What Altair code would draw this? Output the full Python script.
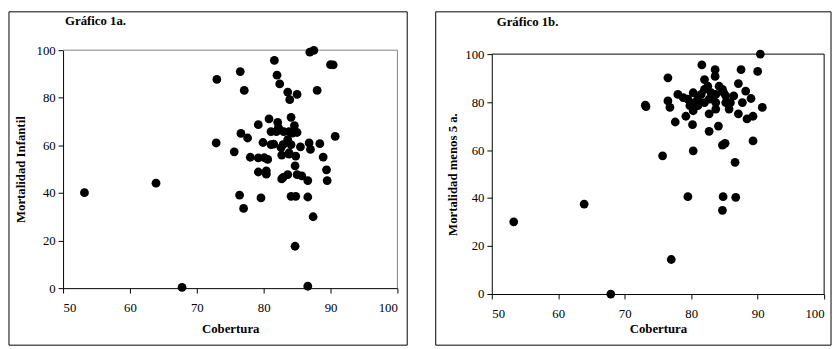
import altair as alt
import pandas as pd

# ---- data ----
left_x = [53.2, 63.9, 67.8, 73.0, 72.9, 76.5, 77.1, 75.6, 76.6, 77.6, 76.4, 77.0, 78.0, 79.2,
          79.6, 79.2, 79.9, 80.1, 80.4, 80.8, 81.1, 81.1, 80.6, 81.6, 82.0, 82.4, 82.1, 82.4,
          82.6, 82.7, 82.7, 83.6, 83.9, 85.0, 84.1, 84.6, 83.8, 85.0, 83.6, 84.1, 83.8, 84.8,
          84.7, 83.6, 85.0, 85.7, 86.6, 84.1, 84.8, 86.6, 84.7, 86.6, 87.4, 85.5, 86.8, 87.0,
          88.4, 88.9, 89.4, 89.5, 88.0, 86.9, 87.5, 90.0, 90.4, 90.7, 79.2, 80.4, 81.9, 83.0,
          84.3, 82.9, 83.8, 82.9, 81.5, 82.2]
left_y = [40.1, 44.1, 0.3, 87.7, 61.0, 91.0, 83.1, 57.3, 65.0, 63.1, 39.1, 33.5, 55.0, 68.7,
          37.9, 48.8, 61.2, 54.8, 47.9, 71.1, 65.8, 60.3, 54.1, 95.7, 89.5, 85.8, 69.7, 66.5,
          59.0, 55.9, 45.9, 82.4, 79.2, 81.4, 71.8, 68.3, 65.8, 65.4, 62.4, 60.3, 56.9, 55.5,
          51.4, 47.7, 47.7, 47.2, 45.2, 38.6, 38.6, 38.3, 17.6, 0.8, 30.0, 59.4, 61.0, 58.3,
          60.7, 55.1, 49.7, 45.2, 83.1, 99.2, 99.9, 93.9, 93.8, 63.8, 54.7, 49.3, 65.8, 65.8,
          65.1, 60.3, 56.3, 46.5, 60.5, 67.5]

right_x = [53.3, 63.9, 67.9, 73.1, 73.2, 76.5, 76.5, 76.8, 77.0, 75.7, 77.6, 78.0, 79.2, 80.2,
           80.3, 79.5, 81.6, 82.0, 82.7, 82.7, 83.6, 83.6, 84.1, 84.7, 85.1, 84.7, 84.8, 86.7,
           86.6, 87.5, 87.1, 87.1, 88.2, 89.0, 87.7, 88.4, 89.3, 89.3, 90.0, 90.4, 90.7,
           78.8, 79.5, 80.3, 80.5, 79.8, 80.3, 81.0, 81.5, 82.0, 82.5, 83.0, 83.2, 83.7, 84.2,
           84.7, 84.9, 85.2, 85.2, 85.7, 83.7, 85.9, 86.4, 82.0, 81.0, 82.7, 83.7]
right_y = [30.1, 37.5, 0.0, 78.7, 78.1, 90.1, 80.5, 77.8, 14.4, 57.6, 71.7, 83.2, 74.1, 70.6,
           59.7, 40.6, 95.5, 89.4, 75.1, 67.8, 93.5, 90.7, 70.0, 62.1, 62.8, 34.9, 40.6, 40.3,
           54.9, 93.5, 87.7, 75.1, 84.6, 81.5, 79.8, 73.0, 74.1, 63.8, 92.8, 100.0, 77.8,
           81.9, 81.2, 83.9, 79.8, 78.5, 76.4, 81.2, 83.2, 85.3, 86.6, 83.9, 81.2, 79.8, 86.6,
           85.3, 83.9, 82.6, 79.8, 77.1, 77.1, 79.8, 82.6, 79.8, 78.5, 81.2, 83.2]

titles = ["Gráfico 1a.", "Gráfico 1b."]
y_titles = ["Mortalidad Infantil", "Mortalidad menos 5 a."]
x_title = "Cobertura"
x_ticks = [50, 60, 70, 80, 90, 100]
y_ticks = [0, 20, 40, 60, 80, 100]
x_dom = [50, 100]
y_dom = [0, 100]

FONT = "Liberation Serif"
one = pd.DataFrame({"k": [0]})


def panel(xs, ys, title, ytitle, w, h, top, frame, box, tpos, xlab_pad, xtitle_pad,
          ytitle_pad):
    df = pd.DataFrame({"Cobertura": xs, "Mortalidad": ys})
    xsc = alt.Scale(domain=x_dom, nice=False, zero=False)
    ysc = alt.Scale(domain=y_dom, nice=False, range=[h, top])
    pts = alt.Chart(df).mark_circle(size=80, color="black", opacity=1).encode(
        x=alt.X("Cobertura:Q", scale=xsc,
                axis=alt.Axis(values=x_ticks, title=x_title, grid=False,
                              domainColor="black", tickColor="black", tickSize=5,
                              labelFont=FONT, labelFontSize=13, labelColor="black",
                              labelPadding=xlab_pad,
                              titleFont=FONT, titleFontSize=13, titleFontWeight="bold",
                              titleColor="black", titlePadding=xtitle_pad)),
        y=alt.Y("Mortalidad:Q", scale=ysc,
                axis=alt.Axis(values=y_ticks, title=ytitle, grid=False,
                              domainColor="black", tickColor="black", tickSize=5,
                              labelFont=FONT, labelFontSize=13, labelColor="black",
                              labelPadding=3,
                              titleFont=FONT, titleFontSize=13, titleFontWeight="bold",
                              titleColor="black", titlePadding=ytitle_pad)),
    )
    # top and right frame lines of the plot area
    top_line = alt.Chart(one).mark_rule(color=frame, strokeWidth=1).encode(
        x=alt.datum(x_dom[0]), x2=alt.datum(x_dom[1]), y=alt.datum(y_dom[1]))
    right_line = alt.Chart(one).mark_rule(color=frame, strokeWidth=1).encode(
        x=alt.datum(x_dom[1]), y=alt.datum(y_dom[0]), y2=alt.datum(y_dom[1]))
    border = alt.Chart(one).mark_rect(fill=None, stroke="black", strokeWidth=1).encode(
        x=alt.value(box[0]), x2=alt.value(box[1]), y=alt.value(box[2]), y2=alt.value(box[3]))
    ttl = alt.Chart(one).mark_text(align="left", baseline="middle", font=FONT,
                                   fontSize=13, fontWeight="bold", color="black").encode(
        x=alt.value(tpos[0]), y=alt.value(tpos[1]), text=alt.value(title))
    return alt.layer(border, top_line, right_line, pts, ttl).properties(
        width=w, height=h,
        view=alt.ViewBackground(stroke=None))


left = panel(left_x, left_y, titles[0], y_titles[0], 340, 242, 0, "#808080",
             (-55, 350, -39, 300), (2, -30), 9, 8, 9)
right = panel(right_x, right_y, titles[1], y_titles[1], 338, 248, 4, "black",
              (-57, 345, -39, 300), (5, -29), 9, 2, 5)

chart = alt.hconcat(left, right, spacing=27).properties(
    padding={"left": 0, "top": 0, "right": 0, "bottom": 0}
).configure(background="white")

chart.save("out.html", embed_options={"renderer": "svg", "actions": False})
